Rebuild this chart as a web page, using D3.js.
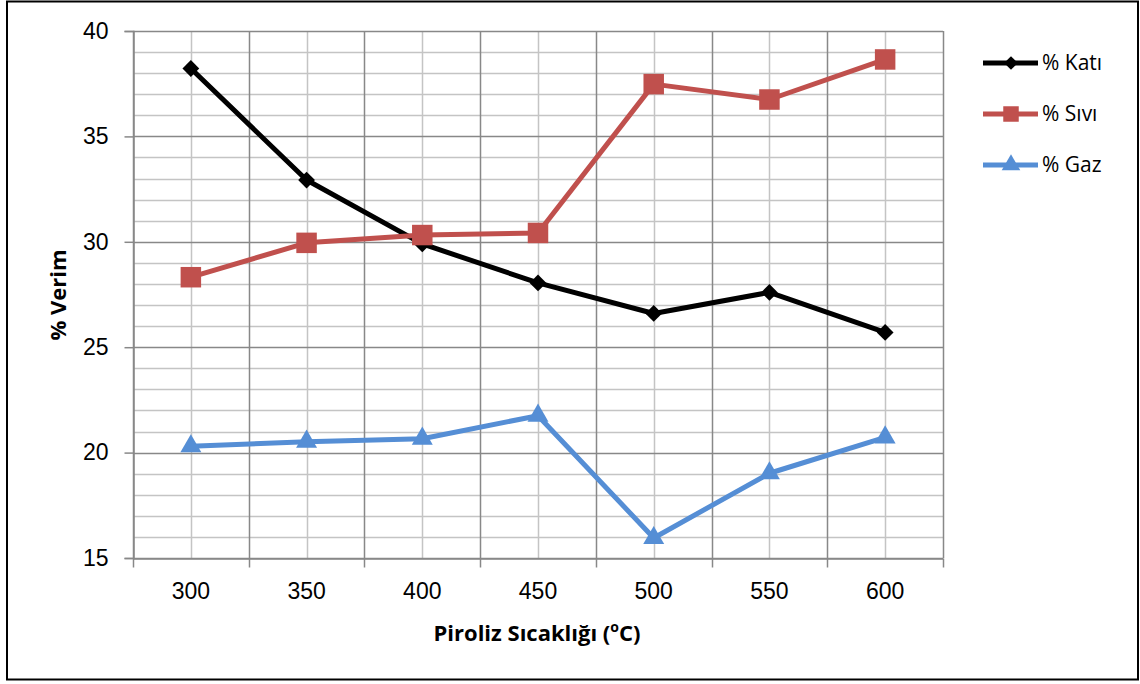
<!DOCTYPE html>
<html>
<head>
<meta charset="utf-8">
<script src="https://cdn.jsdelivr.net/npm/d3@7"></script>
<style>
  html, body { margin: 0; padding: 0; background: #fff; }
  svg { display: block; font-family: "Open Sans", "Liberation Sans", sans-serif; }
</style>
</head>
<body>
<svg id="chart" width="1140" height="684"></svg>
<script>
// Pyrolysis temperatures (°C) and product yields (%)
const temperatures = ["300", "350", "400", "450", "500", "550", "600"];
const katiValues = [38.22, 32.93, 29.9, 28.05, 26.6, 27.6, 25.7];
const siviValues = [28.32, 29.95, 30.32, 30.42, 37.48, 36.75, 38.65];
const gazValues  = [20.3, 20.52, 20.66, 21.75, 15.95, 19.02, 20.72];
const yTickValues = [15, 20, 25, 30, 35, 40];

const seriesList = [
  { name: "% Katı", values: katiValues, color: "#000000", marker: "diamond" },
  { name: "% Sıvı", values: siviValues, color: "#c0504d", marker: "square" },
  { name: "% Gaz",  values: gazValues,  color: "#558ed5", marker: "triangle" }
];

const svg = d3.select("#chart");
const plot = { left: 133, right: 943, top: 31, bottom: 558 };

// outer frame
svg.append("rect")
  .attr("x", 7).attr("y", 1.5)
  .attr("width", 1131).attr("height", 678)
  .attr("fill", "none").attr("stroke", "#000").attr("stroke-width", 2);

const x = d3.scaleBand().domain(temperatures).range([plot.left, plot.right]).padding(0);
const y = d3.scaleLinear().domain([15, 40]).range([plot.bottom, plot.top]);

const g = svg.append("g");

// minor horizontal grid (every 1 unit)
g.append("g").selectAll("line")
  .data(d3.range(16, 40).filter(v => v % 5 !== 0))
  .join("line")
  .attr("x1", plot.left).attr("x2", plot.right)
  .attr("y1", d => Math.round(y(d)) + 0.5).attr("y2", d => Math.round(y(d)) + 0.5)
  .attr("stroke", "#c4c4c4").attr("stroke-width", 1.5);

// minor vertical grid at category centres
g.append("g").selectAll("line")
  .data(temperatures)
  .join("line")
  .attr("x1", d => Math.round(x(d) + x.bandwidth() / 2) + 0.5)
  .attr("x2", d => Math.round(x(d) + x.bandwidth() / 2) + 0.5)
  .attr("y1", plot.top).attr("y2", plot.bottom)
  .attr("stroke", "#c4c4c4").attr("stroke-width", 1.5);

// major horizontal grid (every 5 units)
g.append("g").selectAll("line")
  .data(yTickValues)
  .join("line")
  .attr("x1", plot.left).attr("x2", plot.right)
  .attr("y1", d => Math.round(y(d)) + 0.5).attr("y2", d => Math.round(y(d)) + 0.5)
  .attr("stroke", "#888888").attr("stroke-width", 1.5);

// major vertical grid at category boundaries
const boundaries = temperatures.map(t => x(t)).concat([plot.right]);
g.append("g").selectAll("line")
  .data(boundaries)
  .join("line")
  .attr("x1", d => Math.round(d) + 0.5).attr("x2", d => Math.round(d) + 0.5)
  .attr("y1", plot.top).attr("y2", plot.bottom)
  .attr("stroke", "#888888").attr("stroke-width", 1.5);

// y axis
const yAxis = d3.axisLeft(y).tickValues(yTickValues).tickSize(9).tickPadding(16);
const yg = svg.append("g").attr("transform", `translate(${plot.left + 0.5},0)`).call(yAxis);
yg.select(".domain").attr("stroke", "#888888").attr("stroke-width", 1.5);
yg.selectAll(".tick line").attr("stroke", "#888888").attr("stroke-width", 1.5);
yg.selectAll(".tick text").attr("font-size", 23).attr("fill", "#000");

// x axis with ticks at band boundaries
const xAxis = d3.axisBottom(x).tickSize(0).tickPadding(24);
const xg = svg.append("g").attr("transform", `translate(0,${plot.bottom + 0.5})`).call(xAxis);
xg.select(".domain").attr("stroke", "#888888").attr("stroke-width", 1.5);
xg.selectAll(".tick text").attr("font-size", 23).attr("fill", "#000");
xg.selectAll("line.bound")
  .data(boundaries)
  .join("line")
  .attr("class", "bound")
  .attr("x1", d => Math.round(d) + 0.5).attr("x2", d => Math.round(d) + 0.5)
  .attr("y1", 0).attr("y2", 9)
  .attr("stroke", "#888888").attr("stroke-width", 1.5);

// axis titles
svg.append("text")
  .attr("x", 537).attr("y", 641)
  .attr("text-anchor", "middle")
  .attr("font-size", 22).attr("font-weight", "bold")
  .html('Piroliz Sıcaklığı (<tspan baseline-shift="super" font-size="14">o</tspan>C)');

svg.append("text")
  .attr("transform", "translate(66,295) rotate(-90)")
  .attr("text-anchor", "middle")
  .attr("font-size", 22).attr("font-weight", "bold")
  .text("% Verim");

// marker shapes
const symbolFor = {
  diamond: d3.symbol().type(d3.symbolDiamond2).size(180),
  square: d3.symbol().type(d3.symbolSquare).size(420),
  triangle: d3.symbol().type(d3.symbolTriangle).size(190)
};

const cx = t => x(t) + x.bandwidth() / 2;
const line = d3.line().x(d => cx(d.t)).y(d => y(d.v));

seriesList.forEach(s => {
  const pts = temperatures.map((t, i) => ({ t, v: s.values[i] }));
  svg.append("path")
    .datum(pts)
    .attr("d", line)
    .attr("fill", "none")
    .attr("stroke", s.color)
    .attr("stroke-width", 5)
    .attr("stroke-linejoin", "round");
  svg.append("g").selectAll("path")
    .data(pts)
    .join("path")
    .attr("transform", d => `translate(${cx(d.t)},${y(d.v)})`)
    .attr("d", symbolFor[s.marker])
    .attr("fill", s.color);
});

// legend
const legend = svg.append("g");
const legendY = [63, 114, 165];
seriesList.forEach((s, i) => {
  const ly = legendY[i];
  legend.append("line")
    .attr("x1", 983).attr("x2", 1038).attr("y1", ly).attr("y2", ly)
    .attr("stroke", s.color).attr("stroke-width", 5);
  const sym = d3.symbol().type(
      s.marker === "diamond" ? d3.symbolDiamond2 :
      s.marker === "square" ? d3.symbolSquare : d3.symbolTriangle)
    .size(s.marker === "diamond" ? 120 : s.marker === "square" ? 240 : 150);
  legend.append("path")
    .attr("transform", `translate(1011,${ly})`)
    .attr("d", sym)
    .attr("fill", s.color);
  legend.append("text")
    .attr("x", 1042).attr("y", ly + 7)
    .attr("font-size", 21).attr("fill", "#000")
    .text(s.name);
});
</script>
</body>
</html>
